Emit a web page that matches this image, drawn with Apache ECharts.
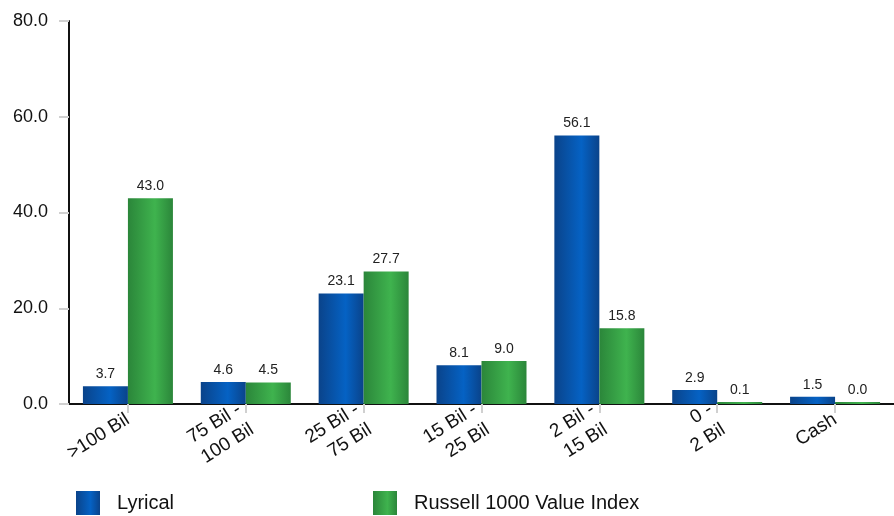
<!DOCTYPE html>
<html>
<head>
<meta charset="utf-8">
<script src="https://cdn.jsdelivr.net/npm/echarts@6/dist/echarts.min.js"></script>
<style>
  html, body { margin: 0; padding: 0; background: #fff; }
  #chart { width: 894px; height: 516px; }
</style>
</head>
<body>
<div id="chart"></div>
<script>
// Market-cap buckets and portfolio weights (%)
const categories = ['>100 Bil', '75 Bil -\n100 Bil', '25 Bil -\n75 Bil', '15 Bil -\n25 Bil', '2 Bil -\n15 Bil', '0 -\n2 Bil', 'Cash'];
const lyrical = [3.7, 4.6, 23.1, 8.1, 56.1, 2.9, 1.5];
const russell = [43.0, 4.5, 27.7, 9.0, 15.8, 0.1, 0.0];
const seriesNames = ['Lyrical', 'Russell 1000 Value Index'];
const yTicks = [0, 20, 40, 60, 80];

const FONT = '"Liberation Sans", Arial, sans-serif';

function barGradient(edge, mid) {
  return new echarts.graphic.LinearGradient(0, 0, 1, 0, [
    { offset: 0, color: edge },
    { offset: 0.6, color: mid },
    { offset: 1, color: edge }
  ]);
}

const valueLabel = {
  show: true,
  position: 'top',
  distance: 5,
  color: '#222',
  fontFamily: FONT,
  fontSize: 14,
  formatter: p => p.value.toFixed(1)
};

function legendItem(name, left) {
  return {
    data: [name],
    left: left, top: 491,
    padding: 0,
    itemWidth: 24, itemHeight: 24,
    icon: 'rect',
    textStyle: { fontSize: 20, color: '#111', fontFamily: FONT, padding: [0, 0, 0, 12] }
  };
}

const chart = echarts.init(document.getElementById('chart'), null, { renderer: 'canvas' });
chart.setOption({
  animation: false,
  textStyle: { fontFamily: FONT },
  grid: { left: 69, right: -5, top: 21, bottom: 112, containLabel: false },
  legend: [legendItem(seriesNames[0], 76), legendItem(seriesNames[1], 373)],
  xAxis: {
    type: 'category',
    data: categories,
    axisLine: { lineStyle: { color: '#111', width: 2 } },
    axisTick: { show: true, alignWithLabel: true, length: 9, lineStyle: { color: '#d0d0d0', width: 2 } },
    axisLabel: {
      interval: 0,
      rotate: 32,
      margin: 14,
      fontSize: 19,
      lineHeight: 24,
      color: '#111',
      fontFamily: FONT
    }
  },
  yAxis: {
    type: 'value',
    min: yTicks[0],
    max: yTicks[yTicks.length - 1],
    interval: 20,
    splitLine: { show: false },
    axisLine: { show: true, lineStyle: { color: '#111', width: 2 } },
    axisTick: { show: true, length: 10, lineStyle: { color: '#d0d0d0', width: 2 } },
    axisLabel: {
      margin: 21,
      fontSize: 18,
      color: '#111',
      fontFamily: FONT,
      formatter: v => v.toFixed(1)
    }
  },
  series: [
    {
      name: seriesNames[0],
      type: 'bar',
      data: lyrical,
      barWidth: 45,
      barGap: '0%',
      barMinHeight: 2,
      color: '#0759b8',
      itemStyle: { color: barGradient('#0a438a', '#0562c4') },
      label: valueLabel
    },
    {
      name: seriesNames[1],
      type: 'bar',
      data: russell,
      barWidth: 45,
      barGap: '0%',
      barMinHeight: 2,
      color: '#3aa84a',
      itemStyle: { color: barGradient('#2b863a', '#3fb34e') },
      label: valueLabel
    }
  ]
});
</script>
</body>
</html>
